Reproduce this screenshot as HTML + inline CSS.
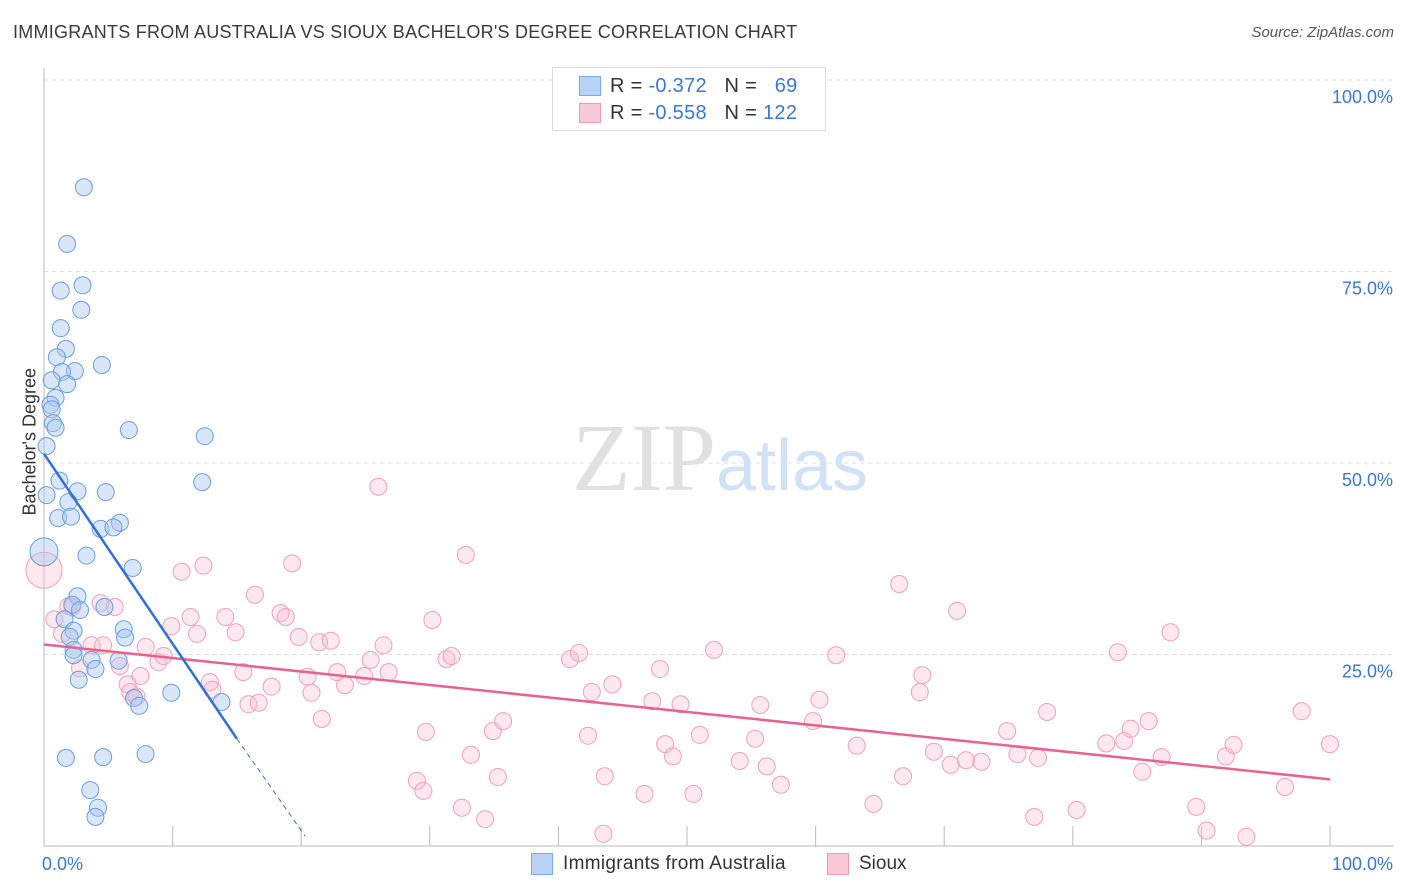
<!DOCTYPE html>
<html><head><meta charset="utf-8"><style>
body{margin:0;background:#fff;font-family:"Liberation Sans",sans-serif;}
#wrap{position:relative;width:1406px;height:892px;overflow:hidden;}
.t{position:absolute;white-space:nowrap;}
</style></head><body>
<div id="wrap">
<div class="t" style="left:13px;top:22px;font-size:18px;color:#3a3a3a;letter-spacing:0.25px;">IMMIGRANTS FROM AUSTRALIA VS SIOUX BACHELOR'S DEGREE CORRELATION CHART</div>
<div class="t" style="right:12px;top:24px;font-size:15px;color:#555;font-style:italic;">Source: ZipAtlas.com</div>
<svg id="svg" width="1406" height="892" style="position:absolute;left:0;top:0"></svg>
<div class="t" style="left:-30px;top:445px;font-size:18px;color:#333;transform:rotate(-90deg);transform-origin:center;width:120px;text-align:center;">Bachelor's Degree</div>
<div style="position:absolute;left:552px;top:67px;width:272px;height:62px;border:1px solid #ddd;background:#fff;font-size:20px;">
 <div style="position:absolute;left:26px;top:8px;width:20px;height:18px;background:#b8d4f5;border:1px solid #7aaae6;"></div>
 <div class="t" style="left:57px;top:7px;color:#333;letter-spacing:0.3px;">R = <span style="color:#3a78d0">-0.372</span>&nbsp;&nbsp;&nbsp;N = &nbsp;&nbsp;<span style="color:#3a78d0">69</span></div>
 <div style="position:absolute;left:26px;top:35px;width:20px;height:18px;background:#f9c9d7;border:1px solid #ee9ab4;"></div>
 <div class="t" style="left:57px;top:34px;color:#333;letter-spacing:0.3px;">R = <span style="color:#3a78d0">-0.558</span>&nbsp;&nbsp;&nbsp;N = <span style="color:#3a78d0">122</span></div>
</div>
<div style="position:absolute;left:531px;top:853px;width:20px;height:20px;background:#b8d4f5;border:1px solid #7aaae6;"></div>
<div class="t" style="left:563px;top:853px;font-size:19px;color:#333;letter-spacing:0.3px;">Immigrants from Australia</div>
<div style="position:absolute;left:827px;top:853px;width:20px;height:20px;background:#f9c9d7;border:1px solid #ee9ab4;"></div>
<div class="t" style="left:859px;top:853px;font-size:19px;color:#333;">Sioux</div>
</div>
<script>
const blueX=[3.1,1.8,3.0,1.3,2.9,1.3,1.7,1.0,4.5,2.4,1.4,0.6,1.8,0.9,0.5,0.6,0.7,0.9,6.6,12.5,0.2,12.3,1.2,2.6,4.8,0.2,1.9,1.1,2.1,5.9,4.4,5.4,3.3,6.9,2.6,2.2,4.7,2.8,1.6,2.3,6.2,2.0,6.3,2.3,2.3,3.7,5.8,4.0,2.7,7.0,9.9,7.4,13.8,1.7,4.6,7.9,3.6,4.2,4.0,0];
const blueY=[86.0,78.6,73.2,72.5,70.0,67.6,64.9,63.8,62.8,62.0,61.9,60.8,60.3,58.5,57.6,57.0,55.2,54.6,54.3,53.5,52.2,47.5,47.7,46.3,46.2,45.8,44.9,42.8,43.0,42.2,41.4,41.6,37.9,36.3,32.6,31.5,31.2,30.8,29.6,28.1,28.3,27.3,27.2,25.6,24.9,24.3,24.2,23.1,21.7,19.3,20.0,18.3,18.8,11.5,11.6,12.0,7.3,5.0,3.8,38.4];
const pinkX=[0.8,1.9,2.2,4.4,5.5,1.4,3.7,4.6,2.8,5.9,7.5,6.5,6.7,7.2,7.9,8.9,9.3,9.9,10.7,11.4,11.9,12.4,12.9,13.1,14.1,14.9,15.5,15.9,16.7,16.4,17.7,18.4,18.8,19.3,19.8,20.5,20.8,21.4,22.3,21.6,22.8,23.4,24.9,25.4,26.0,26.4,26.8,29.7,30.2,29.0,29.5,31.3,31.7,32.8,32.5,33.2,34.3,34.9,35.3,35.7,40.9,41.6,42.3,42.6,44.2,43.6,43.5,46.7,47.3,47.9,48.3,48.9,49.5,50.5,51.0,52.1,54.1,55.3,55.7,56.2,57.3,59.8,60.3,61.6,63.2,64.5,66.5,66.8,68.3,68.1,69.2,70.5,71.0,71.7,72.9,74.9,75.7,77.0,77.3,78.0,80.3,82.6,83.5,84.0,84.5,85.9,85.4,86.9,87.6,89.6,90.4,91.9,92.5,93.5,97.8,96.5,100,0];
const pinkY=[29.6,31.3,31.2,31.7,31.2,27.7,26.2,26.2,23.2,23.5,22.2,21.1,20.1,19.5,26.0,24.0,24.8,28.7,35.8,29.9,27.7,36.6,21.4,20.4,29.9,27.9,22.7,18.5,18.7,32.8,20.8,30.4,29.9,36.9,27.3,22.1,20.0,26.6,26.8,16.6,22.7,21.0,22.2,24.3,46.9,26.2,22.7,14.9,29.5,8.5,7.2,24.4,24.8,38.0,5.0,11.9,3.5,15.0,9.0,16.3,24.4,25.2,14.4,20.1,21.1,9.1,1.6,6.8,18.9,23.1,13.3,11.7,18.5,6.8,14.5,25.6,11.1,14.0,18.4,10.4,8.0,16.3,19.1,24.9,13.1,5.5,34.2,9.1,22.3,20.1,12.3,10.6,30.7,11.2,11.0,15.0,12.0,3.8,11.5,17.5,4.7,13.4,25.3,13.7,15.3,16.3,9.7,11.6,27.9,5.1,2.0,11.7,13.2,1.2,17.6,7.7,13.3,36.0];
const blueTrend=[[0,51.2],[15,14.0]];
const blueDash=[[15,14.0],[20.3,1.3]];
const pinkTrend=[[0,26.3],[100,8.7]];
const yTicks=[100,75,50,25];
const svg=document.getElementById('svg');
const NS='http://www.w3.org/2000/svg';
const X0=44,X1=1330,Y0=846,Y100=80;
const sx=v=>X0+(X1-X0)*v/100, sy=v=>Y0-(Y0-Y100)*v/100;
function mk(tag,attrs){const e=document.createElementNS(NS,tag);for(const k in attrs)e.setAttribute(k,attrs[k]);svg.appendChild(e);return e;}
yTicks.forEach(v=>{
 const l=mk('line',{x1:X0,x2:1394,y1:sy(v),y2:sy(v),stroke:'#ddd','stroke-dasharray':'4,4'});
 
 
 const t=mk('text',{x:1393,y:sy(v)+23,'text-anchor':'end','font-size':18,fill:'#3a78d0','font-family':'Liberation Sans'});
 t.textContent=v.toFixed(1)+'%';
 
 
});
const ax=mk('line',{x1:X0,x2:X0,y1:68,y2:Y0,stroke:'#bbb'});


const bx=mk('line',{x1:X0,x2:1394,y1:Y0,y2:Y0,stroke:'#bbb'});


for(let i=0;i<=10;i++){const tk=mk('line',{x1:sx(i*10),x2:sx(i*10),y1:Y0-20,y2:Y0,stroke:'#bbb'});
 
 }
[['0.0%',X0-2,'start'],['100.0%',1393,'end']].forEach(([s,x,a])=>{const t=mk('text',{x:x,y:870,'text-anchor':a,'font-size':18,fill:'#3a78d0','font-family':'Liberation Sans'});t.textContent=s;
 
 });
const wm=mk('text',{x:720,y:490,'text-anchor':'middle','font-size':96,'font-family':'Liberation Serif',fill:'#e0e0e0'});
wm.innerHTML='ZIP<tspan font-family="Liberation Sans" font-size="72" fill="#d2e2f6">atlas</tspan>';


pinkX.forEach((x,i)=>{const r=i==pinkX.length-1?18:8.5;const c=mk('circle',{cx:sx(x),cy:sy(pinkY[i]),r:r,fill:'rgba(249,190,210,0.35)',stroke:'#f0a0bb','stroke-width':1});
 
 });
blueX.forEach((x,i)=>{const r=i==blueX.length-1?14:8.5;const c=mk('circle',{cx:sx(x),cy:sy(blueY[i]),r:r,fill:'rgba(170,200,240,0.45)',stroke:'#6a9ee0','stroke-width':1});
 
 });
const pl=mk('line',{x1:sx(pinkTrend[0][0]),y1:sy(pinkTrend[0][1]),x2:sx(pinkTrend[1][0]),y2:sy(pinkTrend[1][1]),stroke:'#e8628e','stroke-width':2.5});


const bl=mk('line',{x1:sx(blueTrend[0][0]),y1:sy(blueTrend[0][1]),x2:sx(blueTrend[1][0]),y2:sy(blueTrend[1][1]),stroke:'#2f72d6','stroke-width':2.5});


const bd=mk('line',{x1:sx(blueDash[0][0]),y1:sy(blueDash[0][1]),x2:sx(blueDash[1][0]),y2:sy(blueDash[1][1]),stroke:'#2f72d6','stroke-width':1,'stroke-dasharray':'5,4'});


</script>
</body></html>
